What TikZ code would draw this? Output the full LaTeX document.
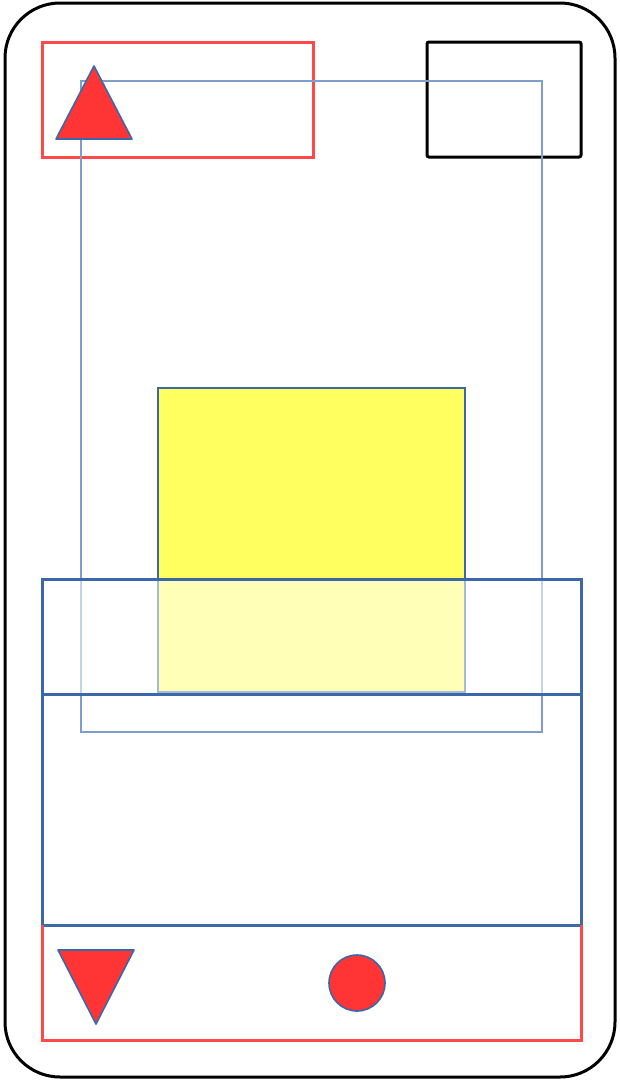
\documentclass[tikz,border=0pt]{standalone}
\usepackage{tikz}
\definecolor{rd}{HTML}{FF3535}
\definecolor{rdline}{HTML}{FF4848}
\definecolor{bl}{HTML}{3A68AA}
\definecolor{blthin}{HTML}{7E9FCE}
\definecolor{yl}{HTML}{FFFF60}
\tikzset{
  frame/.style={draw=black, line width=3pt, rounded corners=55pt},
  redbox/.style={draw=rdline, line width=3pt},
  blackbox/.style={draw=black, line width=3pt, rounded corners=2pt},
  thinbox/.style={draw=blthin, line width=2pt},
  bluebox/.style={draw=bl, line width=3pt},
  marker/.style={fill=rd, draw=bl, line width=1.6pt, line join=round},
  yellowbox/.style={fill=yl, draw=bl, line width=2pt},
  veil/.style={fill=white, fill opacity=0.55, draw=bl, line width=3pt}
}
\begin{document}
\begin{tikzpicture}[x=1pt,y=-1pt]
\useasboundingbox (0,0) rectangle (620,1080);
\fill[white] (0,0) rectangle (620,1080);
\draw[frame] (5,3) rectangle (615,1077);
\draw[redbox] (42,42) rectangle (313,157);
\draw[blackbox] (427,42) rectangle (581,157);
\draw[thinbox] (81,81) rectangle (542,732);
\draw[marker] (94,66) -- (132,139) -- (56,139) -- cycle;
\draw[yellowbox] (158,388) rectangle (465,692);
\draw[veil] (42,579) rectangle (581,694);
\draw[bluebox] (42,694) rectangle (581,925);
\draw[redbox] (42,925) -- (42,1040) -- (581,1040) -- (581,925);
\draw[marker] (58,950) -- (134,950) -- (96,1024) -- cycle;
\draw[marker] (357,983) ellipse (28 and 28);
\end{tikzpicture}
\end{document}
